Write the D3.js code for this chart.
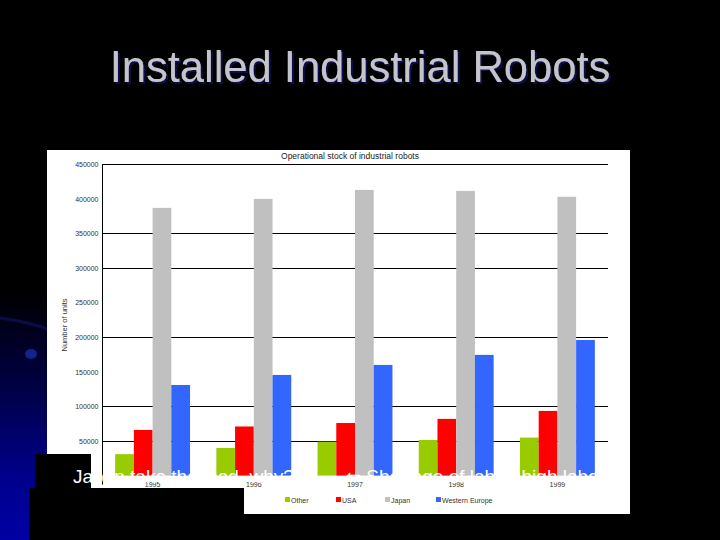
<!DOCTYPE html>
<html><head><meta charset="utf-8">
<script src="https://cdn.jsdelivr.net/npm/d3@7"></script>
<style>
html,body{margin:0;padding:0;background:#000;}
svg{display:block;}
</style></head>
<body>
<svg id="c" width="720" height="540"></svg>
<script>
// ---- data ----
const years = ["1995", "1996", "1997", "1998", "1999"];
const seriesNames = ["Other", "USA", "Japan", "Western Europe"];
const otherVals = [31000, 40000, 49000, 51500, 55000];
const usaVals = [66000, 71000, 76000, 82000, 93500];
const japanVals = [387000, 400000, 413000, 411500, 403000];
const europeVals = [131000, 145500, 160000, 174500, 196000];
const yTickValues = [50000, 100000, 150000, 200000, 250000, 300000, 350000, 400000, 450000];
const gridValues = [50000, 100000, 200000, 300000, 350000, 450000];
const colors = ["#99cc00", "#ff0000", "#c0c0c0", "#3366ff"];

const slideTitle = "Installed Industrial Robots";
const chartTitle = "Operational stock of industrial robots";
const yAxisTitle = "Number of units";
const note1 = "Japan take the lead, why?";
const note2 = "\u2B05 Shortage of labor, high labor cost";

const seriesVals = [otherVals, usaVals, japanVals, europeVals];
const table = years.map((yr, i) => ({year: yr, values: seriesNames.map((s, j) => ({name: s, value: seriesVals[j][i], color: colors[j]}))}));

const svg = d3.select("#c");
const defs = svg.append("defs");
const font = "Liberation Sans, Arial, sans-serif";

// background
svg.append("rect").attr("width", 720).attr("height", 540).attr("fill", "#000");
const g1 = defs.append("linearGradient").attr("id", "blueg").attr("x1", 0).attr("y1", 0).attr("x2", 0).attr("y2", 1);
g1.append("stop").attr("offset", "0").attr("stop-color", "#000000");
g1.append("stop").attr("offset", "0.4").attr("stop-color", "#000048");
g1.append("stop").attr("offset", "0.75").attr("stop-color", "#00008c");
g1.append("stop").attr("offset", "1").attr("stop-color", "#0000a4");
svg.append("rect").attr("x", 0).attr("y", 290).attr("width", 50).attr("height", 250).attr("fill", "url(#blueg)");
svg.append("path").attr("d", "M0,318 Q30,322 50,330").attr("stroke", "#101060").attr("stroke-width", 3).attr("fill", "none").attr("opacity", 0.7);
svg.append("ellipse").attr("cx", 31).attr("cy", 354).attr("rx", 6).attr("ry", 5).attr("fill", "#1a2aa0").attr("opacity", 0.8);

// slide title with soft shadow
const f = defs.append("filter").attr("id", "sh").attr("x", "-5%").attr("y", "-20%").attr("width", "110%").attr("height", "140%");
f.append("feDropShadow").attr("dx", 2).attr("dy", 2).attr("stdDeviation", 0.6).attr("flood-color", "#101048");
svg.append("text").attr("x", 360).attr("y", 82).attr("text-anchor", "middle")
  .attr("font-family", font).attr("font-size", 43.5).attr("filter", "url(#sh)")
  .attr("fill", "#c4c4cc").text(slideTitle);

// chart image area
svg.append("rect").attr("x", 47).attr("y", 150).attr("width", 583).attr("height", 364).attr("fill", "#fff");

const plot = {left: 102, right: 608, top: 164.3, bottom: 475.6};
const y = d3.scaleLinear().domain([0, 450000]).range([plot.bottom, plot.top]);
const x0 = d3.scaleBand().domain(years).range([plot.left, plot.right]).paddingInner(0.26).paddingOuter(0.13);
const x1 = d3.scaleBand().domain(seriesNames).range([0, x0.bandwidth()]);

// gridlines
svg.append("g").selectAll("line").data(gridValues).join("line")
  .attr("x1", plot.left).attr("x2", plot.right)
  .attr("y1", d => Math.round(y(d)) + 0.5).attr("y2", d => Math.round(y(d)) + 0.5)
  .attr("stroke", "#000").attr("stroke-width", 1);

// bars
const groups = svg.append("g").selectAll("g").data(table).join("g")
  .attr("transform", d => `translate(${x0(d.year)},0)`);
groups.selectAll("rect").data(d => d.values).join("rect")
  .attr("x", d => x1(d.name)).attr("width", x1.bandwidth())
  .attr("y", d => y(d.value)).attr("height", d => y(0) - y(d.value))
  .attr("fill", d => d.color);

// y axis
const yAxis = d3.axisLeft(y).tickValues(yTickValues).tickSize(0).tickPadding(4).tickFormat(d3.format("d"));
const ya = svg.append("g").attr("transform", `translate(${plot.left + 0.5},0)`).call(yAxis);
ya.select(".domain").attr("stroke", "#000").attr("d", `M0,${plot.bottom + 9}V${plot.top}`);
ya.selectAll("text").attr("font-family", font).attr("font-size", 7).attr("fill", "#333");

// x axis labels
const xAxis = d3.axisBottom(x0).tickSize(0).tickPadding(6);
const xa = svg.append("g").attr("transform", `translate(0,${plot.bottom})`).call(xAxis);
xa.select(".domain").remove();
xa.selectAll("text").attr("font-family", font).attr("font-size", 7).attr("fill", "#333");

// chart title
svg.append("text").attr("x", 350).attr("y", 159).attr("text-anchor", "middle")
  .attr("font-family", font).attr("font-size", 8.5).attr("fill", "#222").text(chartTitle);

// y axis title
svg.append("text").attr("transform", "translate(67,325) rotate(-90)").attr("text-anchor", "middle")
  .attr("font-family", font).attr("font-size", 7.5).attr("fill", "#333").text(yAxisTitle);

// legend
const legendX = [285, 336, 385, 436];
const lg = svg.append("g").selectAll("g").data(seriesNames).join("g")
  .attr("transform", (d, i) => `translate(${legendX[i]},500)`);
lg.append("rect").attr("x", 0).attr("y", -3).attr("width", 5).attr("height", 5).attr("fill", (d, i) => colors[i]);
lg.append("text").attr("x", 6).attr("y", 2.5).attr("font-family", font)
  .attr("font-size", 7).attr("fill", "#333").text(d => d);

// black overlays
svg.append("rect").attr("x", 35).attr("y", 454).attr("width", 56).attr("height", 34).attr("fill", "#000");
svg.append("rect").attr("x", 29).attr("y", 488).attr("width", 215).attr("height", 52).attr("fill", "#000");

// white notes
defs.append("clipPath").attr("id", "clipR").append("rect").attr("x", 0).attr("y", 0).attr("width", 630).attr("height", 540);
svg.append("text").attr("x", 73).attr("y", 483)
  .attr("font-family", font).attr("font-size", 19).attr("fill", "#fff").text(note1);
svg.append("text").attr("x", 345).attr("y", 483).attr("clip-path", "url(#clipR)")
  .attr("font-family", font).attr("font-size", 19).attr("fill", "#fff").text(note2);
</script>
</body></html>
